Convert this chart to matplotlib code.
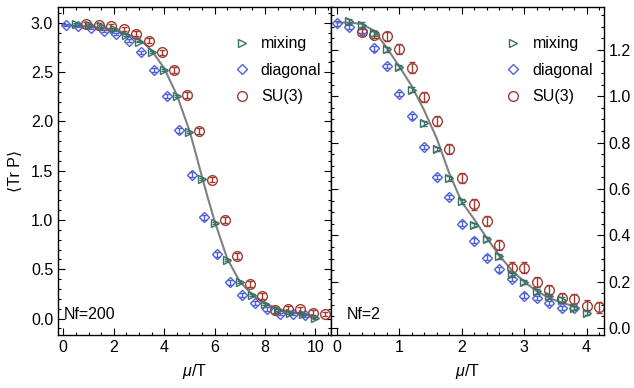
import matplotlib
matplotlib.use("Agg")
import matplotlib.pyplot as plt
from matplotlib.lines import Line2D
from matplotlib.ticker import MultipleLocator, FormatStrFormatter

plt.rcParams['font.family'] = ['Liberation Sans', 'DejaVu Sans']
plt.rcParams['mathtext.fontset'] = 'custom'
plt.rcParams['mathtext.it'] = 'Liberation Sans:italic'
plt.rcParams['mathtext.rm'] = 'Liberation Sans'

# ---- Nf = 200 (left panel) ----
diag_x_200 = [0.1, 0.6, 1.1, 1.6, 2.1, 2.6, 3.1, 3.6, 4.1, 4.6, 5.1, 5.6, 6.1, 6.6, 7.1, 7.6, 8.1, 8.6, 9.1, 9.6]
diag_y_200 = [2.98, 2.97, 2.95, 2.92, 2.89, 2.82, 2.70, 2.52, 2.26, 1.91, 1.46, 1.025, 0.65, 0.37, 0.24, 0.16, 0.096, 0.046, 0.05, 0.035]
diag_e_200 = [0.01, 0.01, 0.01, 0.01, 0.01, 0.015, 0.015, 0.02, 0.02, 0.025, 0.025, 0.025, 0.025, 0.025, 0.02, 0.02, 0.02, 0.015, 0.015, 0.015]

mix_x_200 = [0.5, 1.0, 1.5, 2.0, 2.5, 3.0, 3.5, 4.0, 4.5, 5.0, 5.5, 6.0, 6.5, 7.0, 7.5, 8.0, 8.5, 9.0, 9.5, 10.0]
mix_y_200 = [2.99, 2.98, 2.97, 2.94, 2.88, 2.81, 2.70, 2.52, 2.26, 1.89, 1.42, 0.97, 0.59, 0.37, 0.24, 0.15, 0.086, 0.06, 0.046, 0.005]
mix_e_200 = [0.01] * 20

su3_x_200 = [0.9, 1.4, 1.9, 2.4, 2.9, 3.4, 3.9, 4.4, 4.9, 5.4, 5.9, 6.4, 6.9, 7.4, 7.9, 8.4, 8.9, 9.4, 9.9, 10.4]
su3_y_200 = [2.99, 2.98, 2.97, 2.94, 2.89, 2.82, 2.70, 2.52, 2.27, 1.90, 1.41, 1.0, 0.63, 0.35, 0.23, 0.086, 0.10, 0.093, 0.06, 0.046]
su3_e_200 = [0.02, 0.02, 0.02, 0.02, 0.025, 0.025, 0.025, 0.03, 0.03, 0.03, 0.03, 0.03, 0.03, 0.03, 0.03, 0.025, 0.025, 0.025, 0.025, 0.025]

curve_x_200 = [0.0, 0.5, 1.0, 1.5, 2.0, 2.5, 3.0, 3.5, 4.0, 4.5, 5.0, 5.25, 5.5, 5.75, 6.0, 6.5, 7.0, 7.5, 8.0, 8.5, 9.0, 9.5, 10.0]
curve_y_200 = [2.975, 2.97, 2.96, 2.945, 2.925, 2.885, 2.84, 2.72, 2.54, 2.27, 1.91, 1.68, 1.44, 1.21, 0.99, 0.61, 0.375, 0.24, 0.155, 0.10, 0.065, 0.04, 0.02]

# ---- Nf = 2 (right panel) ----
diag_x_2 = [0.0, 0.2, 0.4, 0.6, 0.8, 1.0, 1.2, 1.4, 1.6, 1.8, 2.0, 2.2, 2.4, 2.6, 2.8, 3.0, 3.2, 3.4, 3.6, 3.8]
diag_y_2 = [1.315, 1.298, 1.282, 1.206, 1.131, 1.010, 0.913, 0.781, 0.651, 0.565, 0.450, 0.377, 0.304, 0.253, 0.213, 0.140, 0.130, 0.108, 0.086, 0.086]
diag_e_2 = [0.01] * 20

mix_x_2 = [0.2, 0.4, 0.6, 0.8, 1.0, 1.2, 1.4, 1.6, 1.8, 2.0, 2.2, 2.4, 2.6, 2.8, 3.0, 3.2, 3.4, 3.6, 3.8, 4.0]
mix_y_2 = [1.323, 1.309, 1.272, 1.202, 1.126, 1.029, 0.883, 0.773, 0.646, 0.547, 0.445, 0.384, 0.309, 0.231, 0.198, 0.159, 0.137, 0.122, 0.086, 0.067]
mix_e_2 = [0.01] * 20

su3_x_2 = [0.4, 0.6, 0.8, 1.0, 1.2, 1.4, 1.6, 1.8, 2.0, 2.2, 2.4, 2.6, 2.8, 3.0, 3.2, 3.4, 3.6, 3.8, 4.0, 4.2]
su3_y_2 = [1.279, 1.265, 1.258, 1.204, 1.124, 0.996, 0.894, 0.774, 0.646, 0.533, 0.462, 0.358, 0.261, 0.261, 0.200, 0.162, 0.130, 0.125, 0.097, 0.089]
su3_e_2 = [0.015, 0.015, 0.02, 0.02, 0.022, 0.022, 0.022, 0.022, 0.022, 0.022, 0.022, 0.022, 0.022, 0.022, 0.022, 0.022, 0.022, 0.022, 0.022, 0.022]

curve_x_2 = [0.0, 0.2, 0.4, 0.6, 0.8, 1.0, 1.2, 1.4, 1.6, 1.8, 2.0, 2.2, 2.4, 2.6, 2.8, 3.0, 3.2, 3.4, 3.6, 3.8]
curve_y_2 = [1.318, 1.318, 1.312, 1.283, 1.21, 1.13, 1.045, 0.94, 0.82, 0.67, 0.545, 0.47, 0.39, 0.315, 0.25, 0.20, 0.16, 0.13, 0.11, 0.094]

blue = '#4f62d9'
brown = '#a03c32'
teal = '#3a7266'
gray = '#808080'
fs = 11.5

fig = plt.figure(figsize=(6.34, 3.88), dpi=100)
ax1 = fig.add_axes([58 / 634, 53 / 388, 273 / 634, 328 / 388])
ax2 = fig.add_axes([331 / 634, 53 / 388, 273 / 634, 328 / 388])


def draw(ax, cx, cy, dx, dy, de, mx, my, me, sx, sy, se):
    ax.plot(cx, cy, color=gray, lw=1.5, zorder=1)
    ax.errorbar(dx, dy, yerr=de, fmt='D', ms=5, mfc='none', mec=blue, mew=1,
                ecolor=blue, elinewidth=1, capsize=2, zorder=2)
    ax.errorbar(mx, my, yerr=me, fmt='>', ms=6, mfc='none', mec=teal, mew=1,
                ecolor=teal, elinewidth=1, capsize=2, zorder=3)
    ax.errorbar(sx, sy, yerr=se, fmt='o', ms=7, mfc='none', mec=brown, mew=1,
                ecolor=brown, elinewidth=1, capsize=2, zorder=2)
    handles = [
        Line2D([], [], ls='none', marker='>', ms=6, mfc='none', mec=teal, mew=1),
        Line2D([], [], ls='none', marker='D', ms=5, mfc='none', mec=blue, mew=1),
        Line2D([], [], ls='none', marker='o', ms=7, mfc='none', mec=brown, mew=1),
    ]
    return handles


h = draw(ax1, curve_x_200, curve_y_200, diag_x_200, diag_y_200, diag_e_200,
         mix_x_200, mix_y_200, mix_e_200, su3_x_200, su3_y_200, su3_e_200)
draw(ax2, curve_x_2, curve_y_2, diag_x_2, diag_y_2, diag_e_2,
     mix_x_2, mix_y_2, mix_e_2, su3_x_2, su3_y_2, su3_e_2)

labels = ['mixing', 'diagonal', 'SU(3)']
for ax, bx in [(ax1, 0.62), (ax2, 0.615)]:
    ax.legend(h, labels, loc='upper left', bbox_to_anchor=(bx, 0.93), frameon=False,
              fontsize=fs, handlelength=1.0, handletextpad=0.7, labelspacing=0.72,
              borderaxespad=0)

ax1.set_xlim(-0.21, 10.62)
ax1.set_ylim(-0.167, 3.16)
ax2.set_xlim(-0.09, 4.28)
ax2.set_ylim(-0.03, 1.385)

ax1.xaxis.set_major_locator(MultipleLocator(2))
ax1.xaxis.set_minor_locator(MultipleLocator(0.5))
ax1.yaxis.set_major_locator(MultipleLocator(0.5))
ax1.yaxis.set_minor_locator(MultipleLocator(0.1))
ax2.xaxis.set_major_locator(MultipleLocator(1))
ax2.xaxis.set_minor_locator(MultipleLocator(0.2))
ax2.yaxis.set_major_locator(MultipleLocator(0.2))
ax2.yaxis.set_minor_locator(MultipleLocator(0.05))

for ax in (ax1, ax2):
    ax.tick_params(which='both', direction='in', top=True, right=True, left=True,
                   labelsize=fs, width=0.8)
    ax.tick_params(which='major', length=5)
    ax.tick_params(which='minor', length=2.5)
    for s in ax.spines.values():
        s.set_linewidth(1.0)
    ax.set_xlabel(r'$\mu$/T', fontsize=fs, labelpad=5)
    ax.yaxis.set_major_formatter(FormatStrFormatter('%.1f'))

ax2.tick_params(axis='y', labelleft=False, labelright=True)
ax1.set_ylabel('\u27e8Tr P\u27e9', fontsize=fs, labelpad=6)

ax1.text(0.022, 0.061, 'Nf=200', transform=ax1.transAxes, fontsize=fs, va='center')
ax2.text(0.058, 0.061, 'Nf=2', transform=ax2.transAxes, fontsize=fs, va='center')

fig.savefig('out.png', dpi=100)
